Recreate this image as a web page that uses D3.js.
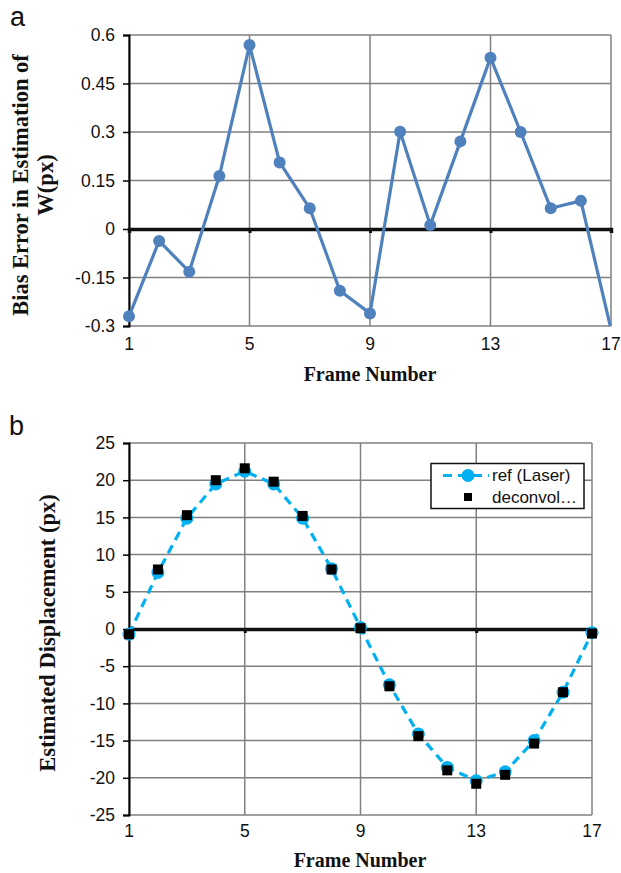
<!DOCTYPE html>
<html><head><meta charset="utf-8">
<script src="https://cdn.jsdelivr.net/npm/d3@7"></script>
<style>body{margin:0;background:#fff}svg{display:block}</style>
</head><body>
<script>
const frames = d3.range(1, 18);
const biasError = [-0.27,-0.037,-0.132,0.164,0.569,0.206,0.064,-0.191,-0.261,0.301,0.012,0.271,0.530,0.300,0.064,0.087,-0.31];
const refLaser = [-0.7,7.6,14.9,19.5,21.2,19.5,14.9,8.1,0.2,-7.5,-14.1,-18.6,-20.4,-19.2,-15.0,-8.5,-0.5];
const deconvol = [-0.7,8.0,15.3,20.0,21.6,19.8,15.2,8.0,0.1,-7.7,-14.4,-19.0,-20.8,-19.6,-15.4,-8.5,-0.6];
const xTicks = [1,5,9,13,17];
const yTicksA = [-0.3,-0.15,0,0.15,0.3,0.45,0.6];
const yTicksB = [-25,-20,-15,-10,-5,0,5,10,15,20,25];
const legendLabels = ["ref (Laser)","deconvol…"];

const W=621,H=873;
const svg=d3.select("body").append("svg").attr("width",W).attr("height",H);
const sans="Liberation Sans, Arial, sans-serif", serif="Liberation Serif, Times New Roman, serif";
const gray="#808080";

function panel(opts){
  const {left,right,top,bottom,yDomain,yTicks,id,xLabDy}=opts;
  const x=d3.scaleLinear().domain([1,17]).range([left,right]);
  const y=d3.scaleLinear().domain(yDomain).range([bottom,top]);
  const g=svg.append("g");
  g.selectAll(".hg").data(yTicks).join("line").attr("x1",left).attr("x2",right)
    .attr("y1",d=>y(d)).attr("y2",d=>y(d)).attr("stroke",gray).attr("stroke-width",1.5);
  g.selectAll(".vg").data(xTicks).join("line").attr("y1",top).attr("y2",bottom)
    .attr("x1",d=>x(d)).attr("x2",d=>x(d)).attr("stroke",gray).attr("stroke-width",1.5);
  const ya=d3.axisLeft(y).tickValues(yTicks).tickSize(6).tickFormat(d=>String(d));
  const yg=g.append("g").attr("transform",`translate(${left},0)`).call(ya);
  yg.select(".domain").attr("stroke","#000").attr("stroke-width",2);
  yg.selectAll(".tick line").attr("stroke","#000").attr("stroke-width",1.5);
  yg.selectAll(".tick text").attr("font-family",sans).attr("font-size",17.5).attr("fill","#111").attr("x",-14);
  const xa=d3.axisBottom(x).tickValues(xTicks).tickSize(4).tickFormat("");
  const xg=g.append("g").attr("transform",`translate(0,${y(0)})`).call(xa);
  xg.select(".domain").attr("stroke","#111").attr("stroke-width",3.5);
  xg.selectAll(".tick line").attr("stroke","#111").attr("stroke-width",3);
  g.selectAll(".xl").data(xTicks).join("text").attr("x",d=>x(d)).attr("y",bottom+xLabDy)
    .attr("text-anchor","middle").attr("font-family",sans).attr("font-size",17.5).attr("fill","#111").text(d=>d);
  svg.append("clipPath").attr("id",id).append("rect").attr("x",left-10).attr("y",top-10)
    .attr("width",right-left+20).attr("height",bottom-top+10);
  return {x,y,g};
}

// Panel a
const A=panel({left:129,right:611,top:35,bottom:326,yDomain:[-0.3,0.6],yTicks:yTicksA,id:"clipA",xLabDy:24});
const ga=svg.append("g").attr("clip-path","url(#clipA)");
ga.append("path").datum(biasError).attr("fill","none").attr("stroke","#4F81BD").attr("stroke-width",3.2)
  .attr("stroke-linejoin","round")
  .attr("d",d3.line().x((d,i)=>A.x(frames[i])).y(d=>A.y(d)));
ga.selectAll("circle").data(biasError.filter(d=>d>=-0.3)).join("circle")
  .attr("cx",(d,i)=>A.x(frames[i])).attr("cy",d=>A.y(d)).attr("r",6).attr("fill","#4F81BD");
svg.append("text").attr("x",10).attr("y",26).attr("font-family",sans).attr("font-size",27).attr("fill","#111").text("a");
svg.append("text").attr("x",370).attr("y",381).attr("text-anchor","middle").attr("font-family",serif)
  .attr("font-weight","bold").attr("font-size",20).attr("fill","#111").text("Frame Number");
const ta=svg.append("text").attr("transform","translate(0,185) rotate(-90)").attr("text-anchor","middle")
  .attr("font-family",serif).attr("font-weight","bold").attr("font-size",22.5).attr("fill","#111");
ta.append("tspan").attr("x",0).attr("y",28).text("Bias Error in Estimation of");
ta.append("tspan").attr("x",0).attr("y",53).text("W(px)");

// Panel b
const B=panel({left:129,right:592,top:443,bottom:815,yDomain:[-25,25],yTicks:yTicksB,id:"clipB",xLabDy:22});
const gb=svg.append("g");
gb.append("path").datum(refLaser).attr("fill","none").attr("stroke","#00B0F0").attr("stroke-width",3.2)
  .attr("stroke-dasharray","9,6")
  .attr("d",d3.line().x((d,i)=>B.x(frames[i])).y(d=>B.y(d)));
gb.selectAll("circle").data(refLaser).join("circle")
  .attr("cx",(d,i)=>B.x(frames[i])).attr("cy",d=>B.y(d)).attr("r",6.5).attr("fill","#00B0F0");
gb.selectAll("rect").data(deconvol).join("rect")
  .attr("x",(d,i)=>B.x(frames[i])-5).attr("y",d=>B.y(d)-5).attr("width",10).attr("height",10).attr("fill","#000");
svg.append("text").attr("x",9).attr("y",435).attr("font-family",sans).attr("font-size",27).attr("fill","#111").text("b");
svg.append("text").attr("x",360).attr("y",867).attr("text-anchor","middle").attr("font-family",serif)
  .attr("font-weight","bold").attr("font-size",20).attr("fill","#111").text("Frame Number");
svg.append("text").attr("transform","translate(55,633) rotate(-90)").attr("text-anchor","middle")
  .attr("font-family",serif).attr("font-weight","bold").attr("font-size",22.5).attr("fill","#111")
  .text("Estimated Displacement (px)");
// legend
const lg=svg.append("g");
lg.append("rect").attr("x",431).attr("y",463.5).attr("width",153).attr("height",45)
  .attr("fill","#fff").attr("stroke","#111").attr("stroke-width",1.5);
lg.append("line").attr("x1",443).attr("x2",489).attr("y1",475.5).attr("y2",475.5)
  .attr("stroke","#00B0F0").attr("stroke-width",3.2).attr("stroke-dasharray","9,6");
lg.append("circle").attr("cx",468).attr("cy",475.5).attr("r",6.5).attr("fill","#00B0F0");
lg.append("rect").attr("x",464).attr("y",493).attr("width",8).attr("height",8).attr("fill","#000");
lg.selectAll("text").data(legendLabels).join("text").attr("x",492).attr("y",(d,i)=>481+i*22)
  .attr("font-family",sans).attr("font-size",17).attr("fill","#111").text(d=>d);
</script>
</body></html>
